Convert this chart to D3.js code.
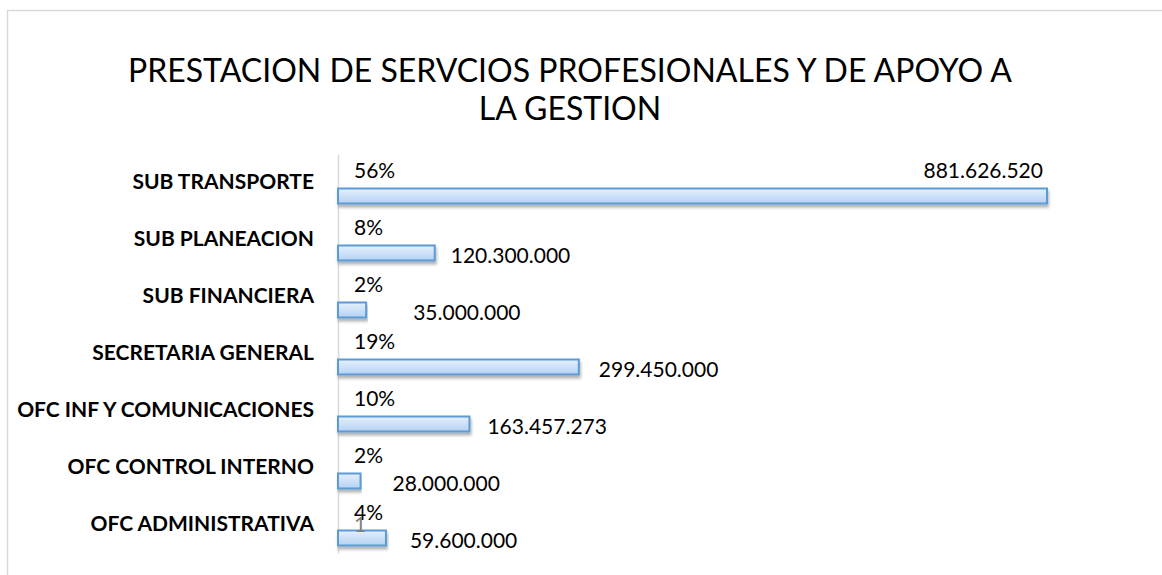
<!DOCTYPE html>
<html>
<head>
<meta charset="utf-8">
<script src="https://cdn.jsdelivr.net/npm/d3@7"></script>
<style>
  body { margin: 0; background: #fff; }
  svg { display: block; font-family: Lato, "Open Sans", sans-serif; }
</style>
</head>
<body>
<svg width="1162" height="575"></svg>
<script>
var categories = ["SUB TRANSPORTE", "SUB PLANEACION", "SUB FINANCIERA", "SECRETARIA GENERAL",
  "OFC INF Y COMUNICACIONES", "OFC CONTROL INTERNO", "OFC ADMINISTRATIVA"]
var values = [881626520, 120300000, 35000000, 299450000, 163457273, 28000000, 59600000]
var percents = ["56%", "8%", "2%", "19%", "10%", "2%", "4%"]
var titleLines = ["PRESTACION DE SERVCIOS PROFESIONALES Y DE APOYO A", "LA GESTION"]

// label nudges (px after bar end), first one sits inside the bar end
var labelGap = [0, 16, 47, 20, 18, 32, 24]

var width = 1162
var height = 575
var margin = ({top: 154, right: 115, bottom: 22, left: 338})

var fmt = v => d3.format(",")(v).replace(/,/g, ".")

var svg = d3.select("svg")

var defs = svg.append("defs")
var grad = defs.append("linearGradient").attr("id", "barFill")
  .attr("x1", 0).attr("y1", 0).attr("x2", 0).attr("y2", 1)
grad.append("stop").attr("offset", "0%").attr("stop-color", "#e6f0fb")
grad.append("stop").attr("offset", "100%").attr("stop-color", "#b4d2f3")
var shadow = defs.append("filter").attr("id", "shadow")
  .attr("x", "-5%").attr("y", "-50%").attr("width", "110%").attr("height", "220%")
shadow.append("feDropShadow").attr("dx", 1).attr("dy", 3).attr("stdDeviation", 1.6)
  .attr("flood-color", "#000").attr("flood-opacity", 0.3)

// chart frame
svg.append("rect")
  .attr("x", 7.5).attr("y", 10.5)
  .attr("width", width + 20).attr("height", height + 20)
  .attr("fill", "none").attr("stroke", "#d9d9d9").attr("stroke-width", 1.5)

// title
svg.append("g").selectAll("text")
  .data(titleLines)
  .join("text")
  .attr("x", 570)
  .attr("y", (d, i) => 82 + i * 38)
  .attr("text-anchor", "middle")
  .attr("font-size", 32)
  .attr("fill", "#000")
  .text(d => d)

var x = d3.scaleLinear()
  .domain([0, d3.max(values)])
  .range([margin.left, width - margin.right])

var y = d3.scaleBand()
  .domain(categories)
  .range([margin.top, height - margin.bottom])

var yAxis = g => g
  .attr("transform", `translate(${margin.left},0)`)
  .call(d3.axisLeft(y).tickSize(0).tickPadding(24))
  .call(g => g.select(".domain").attr("stroke", "#d9d9d9").attr("stroke-width", 1.5))
  .call(g => g.selectAll(".tick text")
    .attr("font-family", "Lato, sans-serif")
    .attr("font-size", 21)
    .attr("font-weight", "bold")
    .attr("fill", "#000"))

svg.append("g").call(yAxis)

var rows = categories.map((c, i) => ({cat: c, value: values[i], pct: percents[i], gap: labelGap[i], i: i}))
var mid = d => y(d.cat) + y.bandwidth() / 2

svg.append("g")
  .selectAll("rect")
  .data(rows)
  .join("rect")
  .attr("x", x(0))
  .attr("y", d => mid(d) + 6)
  .attr("width", d => x(d.value) - x(0))
  .attr("height", 15)
  .attr("fill", "url(#barFill)")
  .attr("stroke", "#5b9bd5")
  .attr("stroke-width", 2)
  .attr("filter", "url(#shadow)")

// percent labels
svg.append("g")
  .selectAll("text")
  .data(rows)
  .join("text")
  .attr("x", x(0) + 16)
  .attr("y", d => mid(d) - 12)
  .attr("dy", "0.36em")
  .attr("font-size", 21)
  .text(d => d.pct)

// value labels
svg.append("g")
  .selectAll("text")
  .data(rows)
  .join("text")
  .attr("x", d => d.i === 0 ? x(d.value) - 4 : x(d.value) + d.gap)
  .attr("y", d => d.i === 0 ? mid(d) - 12 : mid(d) + 15.5)
  .attr("dy", "0.36em")
  .attr("text-anchor", d => d.i === 0 ? "end" : "start")
  .attr("font-size", 21)
  .text(d => fmt(d.value))

// stray label left by the hidden series on the last row
var last = rows[rows.length - 1]
svg.append("text")
  .attr("x", x(0) + 22)
  .attr("y", mid(last))
  .attr("dy", "0.36em")
  .attr("text-anchor", "middle")
  .attr("font-size", 21)
  .attr("fill", "#7f7f7f")
  .text("1")
</script>
</body>
</html>
